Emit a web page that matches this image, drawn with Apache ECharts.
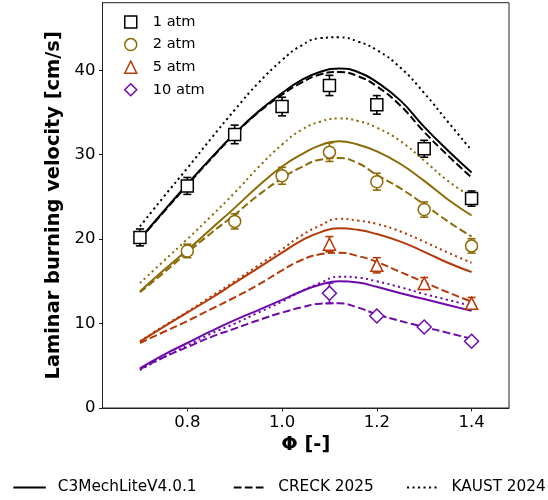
<!DOCTYPE html>
<html>
<head>
<meta charset="utf-8">
<script src="https://cdn.jsdelivr.net/npm/echarts@6/dist/echarts.min.js"></script>
<style>html,body{margin:0;padding:0;background:#fff}#c{width:548px;height:500px}</style>
</head>
<body>
<div id="c"></div>
<script>
// ---------- data ----------
const phiModel = [0.70,0.75,0.80,0.85,0.90,0.95,1.00,1.04,1.08,1.12,1.16,1.20,1.25,1.30,1.35,1.40];

const c3_1    = [20.0,23.3,26.5,29.6,32.5,35.1,37.3,38.8,39.8,40.2,39.8,38.6,36.4,33.3,30.5,27.9];
const creck_1 = [20.0,23.2,26.4,29.5,32.4,35.0,37.1,38.5,39.5,39.8,39.3,38.1,35.8,32.7,29.9,27.3];
const kaust_1 = [21.5,25.0,28.4,31.9,35.3,38.5,41.2,42.9,43.8,43.9,43.4,42.4,40.3,37.3,33.9,30.5];

const c3_2    = [13.8,16.3,18.7,21.2,23.7,26.3,28.6,30.0,31.1,31.6,31.2,30.4,28.9,26.9,24.7,22.8];
const creck_2 = [13.7,16.0,18.4,20.7,22.9,25.2,27.2,28.5,29.4,29.6,29.0,27.6,26.0,24.1,22.1,20.3];
const kaust_2 = [14.8,17.4,20.0,22.7,25.5,28.5,31.2,32.9,33.9,34.3,34.0,33.2,31.6,29.3,26.9,25.0];

const c3_5    = [7.85,9.6,11.3,13.0,14.8,16.6,18.4,19.8,20.8,21.3,21.1,20.6,19.7,18.5,17.2,16.1];
const creck_5 = [7.7,9.0,10.3,11.7,13.1,14.6,16.3,17.5,18.2,18.4,18.0,17.3,16.1,14.9,13.7,12.6];
const kaust_5 = [7.9,9.7,11.4,13.2,15.0,16.9,18.8,20.4,21.6,22.4,22.2,21.8,20.9,19.7,18.4,17.2];

const c3_10    = [4.7,6.3,7.7,9.1,10.4,11.6,12.8,13.8,14.6,15.0,14.85,14.35,13.6,12.9,12.2,11.5];
const creck_10 = [4.6,6.0,7.2,8.4,9.4,10.4,11.3,11.9,12.35,12.4,11.9,11.1,10.3,9.6,8.9,8.2];
const kaust_10 = [4.5,6.0,7.4,8.8,10.0,11.3,12.6,13.8,14.8,15.55,15.45,15.0,14.3,13.5,12.8,12.1];

const phiExp1 = [0.7,0.8,0.9,1.0,1.1,1.2,1.3,1.4];
const exp1    = [20.2,26.3,32.4,35.7,38.2,35.9,30.7,24.8];
const err1    = [1.0,1.0,1.1,1.1,1.2,1.1,1.0,0.9];

const phiExp2 = [0.8,0.9,1.0,1.1,1.2,1.3,1.4];
const exp2    = [18.6,22.1,27.5,30.3,26.8,23.5,19.2];
const err2    = [0.8,0.9,1.0,1.1,1.0,0.9,0.85];

const phiExp5 = [1.1,1.2,1.3,1.4];
const exp5    = [19.4,16.9,14.75,12.4];
const err5    = [0.9,0.9,0.7,0.7];

const phiExp10 = [1.1,1.2,1.3,1.4];
const exp10    = [13.6,10.9,9.6,7.9];
const err10    = [1.2,0.3,0.3,0.3];

const pressures = ['1 atm','2 atm','5 atm','10 atm'];
const modelNames = ['C3MechLiteV4.0.1','CRECK 2025','KAUST 2024'];
const xTicks = [0.8,1.0,1.2,1.4];
const yTicks = [0,10,20,30,40];

// ---------- styling ----------
const colors = ['#000000','#8B6B06','#B33A0A','#6E0BA8'];
const symbols = ['rect','circle','triangle','diamond'];
const symSizes = [12,12,12,14];
const LW = 2;
const dashTypes = ['solid',[7.7,3.3],[2.1,3.4]];
const FONT = 'DejaVu Sans';

const models = [[c3_1,creck_1,kaust_1],[c3_2,creck_2,kaust_2],[c3_5,creck_5,kaust_5],[c3_10,creck_10,kaust_10]];
const exps = [[phiExp1,exp1,err1],[phiExp2,exp2,err2],[phiExp5,exp5,err5],[phiExp10,exp10,err10]];

const zip = (xs, ys) => xs.map((x,i)=>[x,ys[i]]);

const series = [];
models.forEach((set, pi) => {
  set.forEach((ys, mi) => {
    series.push({
      type:'line', name: modelNames[mi] + ' ' + pressures[pi],
      data: zip(phiModel, ys), smooth: 0.5, symbol:'none', showSymbol:false,
      lineStyle:{color:colors[pi], width:LW, type: dashTypes[mi]},
      itemStyle:{color:colors[pi]}, z:2, silent:true
    });
  });
});
exps.forEach((e, pi) => {
  const c = colors[pi];
  series.push({
    type:'custom', name:'err ' + pressures[pi],
    data: e[0].map((x,i)=>[x, e[1][i], e[2][i]]),
    encode:{x:0,y:1}, z:3, silent:true,
    renderItem:(params, api) => {
      const x = api.value(0), y = api.value(1), er = api.value(2);
      const t = api.coord([x, y+er]), b = api.coord([x, y-er]);
      const hw = 4;
      const st = {stroke:c, lineWidth:1.6};
      return {type:'group', children:[
        {type:'line', shape:{x1:t[0],y1:t[1],x2:b[0],y2:b[1]}, style:st},
        {type:'line', shape:{x1:t[0]-hw,y1:t[1],x2:t[0]+hw,y2:t[1]}, style:st},
        {type:'line', shape:{x1:b[0]-hw,y1:b[1],x2:b[0]+hw,y2:b[1]}, style:st}
      ]};
    }
  });
});
exps.forEach((e, pi) => {
  series.push({
    type:'scatter', name: pressures[pi],
    data: zip(e[0], e[1]), symbol: symbols[pi], symbolSize: symSizes[pi],
    itemStyle:{color:'#ffffff', borderColor:colors[pi], borderWidth:1.5, opacity:1},
    z:4, silent:true
  });
});
modelNames.forEach((n, mi) => {
  series.push({
    type:'line', name:n, data:[], symbol:'none',
    lineStyle:{color:'#000', width:LW, type:dashTypes[mi]}, itemStyle:{color:'#000'}
  });
});

const bottomLeft = [7.3, 227.8, 401];
const legends = [{
  orient:'vertical', left:119, top:9, itemGap:6.6, itemWidth:12, itemHeight:12,
  selectedMode:false,
  textStyle:{fontFamily:FONT, fontSize:14.6, color:'#000', lineHeight:16, padding:[0,0,0,11]},
  data: pressures.map((p,pi)=>({name:p, itemStyle:{color:'#fff', borderColor:colors[pi], borderWidth:1.5}}))
}];
modelNames.forEach((n, mi) => {
  legends.push({
    orient:'horizontal', left:bottomLeft[mi], top:475, itemWidth:32.5, itemHeight:14,
    selectedMode:false,
    itemStyle:{color:'rgba(0,0,0,0)', borderWidth:0, opacity:0},
    textStyle:{fontFamily:FONT, fontSize:15.3, color:'#000', padding:[0,0,0,7]},
    data:[n]
  });
});

const chart = echarts.init(document.getElementById('c'), null, {renderer:'canvas'});
chart.setOption({
  animation:false,
  backgroundColor:'#fff',
  textStyle:{fontFamily:FONT},
  grid:{left:102.5, right:39, top:2.7, bottom:92, show:true, borderColor:'#222', borderWidth:1, backgroundColor:'transparent'},
  xAxis:{
    type:'value', min:0.621, max:1.479,
    name:'Φ [-]', nameLocation:'middle', nameGap:27,
    nameTextStyle:{fontFamily:FONT, fontSize:19.4, fontWeight:'bold', color:'#000'},
    axisLine:{show:true, lineStyle:{color:'#222', width:1}},
    axisTick:{show:true, inside:false, length:3.5, customValues:xTicks, lineStyle:{color:'#222'}},
    axisLabel:{customValues:xTicks, formatter:v=>v.toFixed(1), fontFamily:FONT, fontSize:16.5, color:'#000', margin:6},
    splitLine:{show:false}
  },
  yAxis:{
    type:'value', min:0, max:48,
    name:'Laminar burning velocity [cm/s]', nameLocation:'middle', nameGap:28,
    nameTextStyle:{fontFamily:FONT, fontSize:19.4, fontWeight:'bold', color:'#000'},
    axisLine:{show:true, lineStyle:{color:'#222', width:1}},
    axisTick:{show:true, inside:false, length:3.5, customValues:yTicks, lineStyle:{color:'#222'}},
    axisLabel:{customValues:yTicks, fontFamily:FONT, fontSize:16.5, color:'#000', margin:7},
    splitLine:{show:false}
  },
  legend: legends,
  series: series
});
</script>
</body>
</html>
